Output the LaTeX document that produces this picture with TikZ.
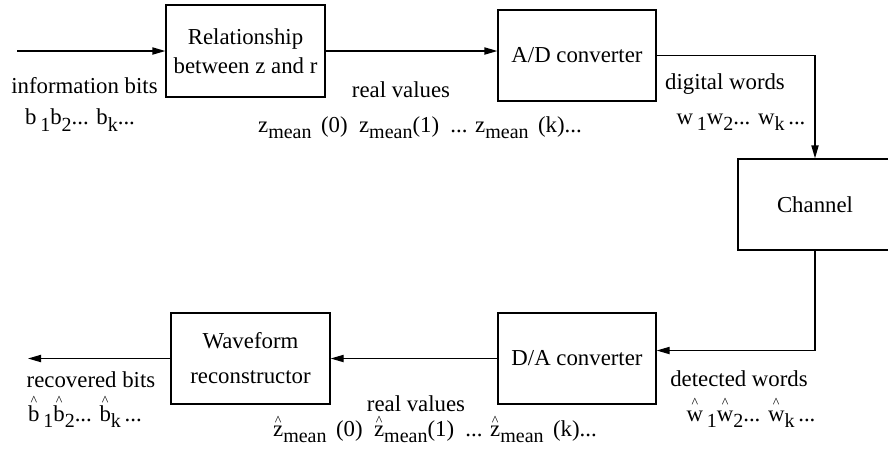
\documentclass[tikz,border=0pt]{standalone}
\usepackage{fontspec}
\setmainfont{Liberation Serif}
\usepackage{tikz}
\usetikzlibrary{positioning,arrows.meta}
\newcommand\sbs[1]{\raisebox{-0.6ex}{\fontsize{10}{10}\selectfont #1}}
\newcommand\hatted[2][7.6pt]{\sbox0{#2}\makebox[\wd0]{\raisebox{#1}{\fontsize{7}{7}\selectfont\textasciicircum}}\kern-\wd0\usebox0}

\begin{document}
\begin{tikzpicture}[
  x=0.5pt, y=-0.5pt,
  font=\fontsize{11.4}{13.5}\selectfont,
  box/.style={draw, line width=0.65pt, align=center, inner sep=2pt},
  flow/.style={-{Triangle[length=6.5pt,width=3.6pt]}, line width=0.65pt},
  lbl/.style={inner sep=0pt, anchor=center},
  hlbl/.style={inner sep=0pt, anchor=base}
]
\useasboundingbox (0,0) rectangle (888,452);

\node[box, minimum width=79.5pt, minimum height=46pt] (rel) at (245.5,51) {Relationship\\[1pt]between z and r};
\node[box, minimum width=79pt, minimum height=45.5pt] (ad) at (577,55.5) {A/D converter};
\node[box, minimum width=77pt, minimum height=45.5pt] (chan) at (815,204.5) {Channel};
\node[box, minimum width=79pt, minimum height=45.5pt] (da) at (577,358.5) {D/A converter};
\node[box, minimum width=79.5pt, minimum height=45.5pt] (wave) at (250.5,358.5) {Waveform\\[4pt]reconstructor};

\coordinate (in) at (17,51);
\coordinate (out) at (28,358.5);

\draw[flow] (in) -- (rel.west);
\draw[flow] (rel.east) -- (ad.west |- rel.east);
\draw[flow] (ad.east) -| (chan.north);
\draw[flow] (chan.south) |- ([yshift=4pt]da.east);
\draw[flow] (da.west) -- (wave.east);
\draw[flow] (wave.west) -- (out);

\node[lbl] (infobits) at (84.5,86) {information bits};
\node[lbl] (bseq) at (80,120) {b\,\sbs{1}b\sbs{2}... b\sbs{k}...};
\node[lbl] (realtop) at (401,90) {real values};
\node[lbl] (zseq) at (420,128) {z\sbs{mean}\ \,(0)\ \ z\sbs{mean}(1)\ \ ... z\sbs{mean}\ \,(k)...};
\node[lbl] (digwords) at (725,84) {digital words};
\node[lbl] (wseq) at (741,122) {w\,\sbs{1}w\sbs{2}... w\sbs{k}\,...};
\node[lbl] (recbits) at (91,380) {recovered bits};
\node[hlbl] (bhat) at (85,421) {\hatted{b}\,\sbs{1}\hatted{b}\sbs{2}... \hatted{b}\sbs{k}\,...};
\node[lbl] (realbot) at (416,404) {real values};
\node[hlbl] (zhat) at (435,436) {\hatted[5.4pt]{z}\sbs{mean}\ \,(0)\ \ \hatted[5.4pt]{z}\sbs{mean}(1)\ \ ... \hatted[5.4pt]{z}\sbs{mean}\ \,(k)...};
\node[lbl] (detwords) at (739,379) {detected words};
\node[hlbl] (what) at (751,421) {\hatted[6.6pt]{w}\,\sbs{1}\hatted[6.6pt]{w}\sbs{2}... \hatted[6.6pt]{w}\sbs{k}\,...};
\end{tikzpicture}
\end{document}
